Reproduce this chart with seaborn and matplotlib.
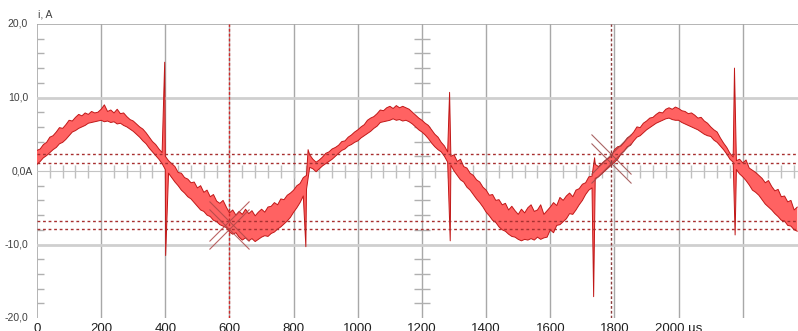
import numpy as np
import matplotlib
matplotlib.use("Agg")
import matplotlib.pyplot as plt
import seaborn as sns

# ----------------------
# Data: current waveform band (upper / lower edge), sampled every 10 us
# ----------------------
time_us = np.arange(0, 2380, 10)

upper_a = [
    2.8, 3.0, 3.6, 3.9, 4.6, 4.8, 5.3, 5.9, 5.8, 6.3,
    6.9, 6.8, 7.3, 7.7, 7.5, 7.9, 7.7, 8.1, 7.9, 8.0,
    8.4, 9.0, 8.1, 8.3, 7.9, 8.4, 7.8, 7.9, 7.4, 7.0,
    6.8, 6.4, 6.0, 5.7, 5.2, 4.6, 4.0, 3.6, 3.0, 2.5,
    2.0, 1.4, 1.0, 0.6, -0.2, -0.3, -0.9, -1.1, -1.6, -1.5,
    -2.3, -2.0, -2.9, -2.6, -3.5, -3.2, -4.1, -4.4, -4.0, -4.9,
    -5.7, -5.3, -6.0, -5.5, -5.9, -5.2, -5.8, -5.4, -6.1, -5.6,
    -5.2, -5.6, -4.9, -4.8, -4.3, -4.6, -3.8, -3.9, -3.3, -3.0,
    -2.6, -2.0, -1.7, -0.9, -0.6, 2.2, 1.6, 1.2, 1.5, 1.9,
    2.4, 2.6, 3.0, 3.2, 3.5, 4.0, 4.1, 4.6, 4.9, 5.3,
    5.6, 6.0, 6.3, 6.9, 7.2, 7.4, 7.8, 8.3, 8.2, 8.6,
    8.8, 8.5, 8.9, 8.6, 8.8, 8.6, 8.4, 8.0, 7.6, 7.2,
    6.9, 6.5, 6.2, 5.6, 5.0, 4.6, 3.9, 3.4, 2.6, 2.0,
    2.2, 1.3, 1.6, 0.6, 0.4, -0.3, -0.6, -1.2, -1.5, -2.2,
    -2.6, -3.3, -3.2, -4.0, -3.9, -4.6, -4.4, -5.3, -4.8, -5.4,
    -5.9, -5.2, -5.7, -5.0, -4.6, -5.5, -5.3, -4.6, -5.9, -5.4,
    -4.9, -4.3, -4.7, -3.6, -4.0, -3.4, -3.0, -3.5, -2.6, -2.4,
    -1.8, -1.6, -0.8, -0.7, 0.9, 0.6, 1.0, 1.4, 1.7, 2.0,
    2.9, 3.3, 3.4, 3.9, 4.5, 4.8, 5.3, 6.0, 5.9, 6.5,
    6.8, 7.2, 7.3, 7.7, 8.0, 7.9, 8.4, 8.6, 8.4, 8.7,
    8.5, 8.2, 8.1, 7.8, 7.9, 7.6, 7.2, 7.3, 6.8, 6.5,
    6.0, 5.6, 5.3, 4.5, 3.8, 3.2, 2.4, 1.9, 1.4, 1.6,
    1.1, 1.5, 0.4, 0.1, -0.2, -0.6, -1.0, -1.6, -1.3, -2.1,
    -2.7, -2.5, -3.5, -3.4, -4.2, -4.0, -5.3, -4.9,
]

lower_a = [
    0.9, 1.3, 1.8, 2.1, 2.5, 2.9, 3.2, 3.7, 3.9, 4.3,
    4.8, 5.3, 5.5, 5.8, 6.0, 6.2, 6.5, 6.6, 6.7, 6.8,
    6.9, 6.7, 6.8, 6.6, 6.7, 6.4, 6.5, 6.2, 6.0, 5.7,
    5.4, 5.0, 4.6, 4.1, 3.7, 3.1, 2.6, 2.1, 1.6, 1.0,
    0.2, -0.3, -0.9, -1.5, -2.0, -2.6, -3.0, -3.5, -3.8, -4.3,
    -4.8, -5.3, -5.5, -6.0, -6.2, -6.7, -6.9, -7.3, -7.5, -7.7,
    -8.3, -8.6, -8.4, -9.0, -9.4, -9.1, -9.5, -9.2, -9.6, -9.3,
    -9.0, -8.8, -8.9, -8.5, -8.3, -7.9, -7.6, -7.2, -6.8, -6.3,
    -5.6, -5.0, -4.3, -3.4, -2.5, 0.5, 0.3, -0.1, 0.3, 0.7,
    1.0, 1.3, 1.6, 2.0, 2.4, 2.8, 3.0, 3.4, 3.6, 3.9,
    4.1, 4.5, 4.8, 5.1, 5.4, 5.8, 6.1, 6.6, 6.7, 6.8,
    6.9, 7.1, 6.9, 7.0, 6.8, 6.9, 6.7, 6.4, 6.0, 5.6,
    5.3, 4.9, 4.4, 3.8, 3.3, 2.9, 2.6, 2.0, 1.2, 0.8,
    0.0, -0.6, -1.2, -1.5, -2.2, -2.6, -3.2, -3.8, -4.3, -4.9,
    -5.6, -6.1, -6.7, -7.0, -7.6, -8.0, -8.2, -8.6, -8.9, -9.0,
    -9.3, -9.5, -9.3, -9.4, -9.2, -9.4, -9.0, -9.3, -9.1, -9.0,
    -8.0, -8.4, -7.4, -7.3, -6.9, -6.5, -5.8, -5.9, -5.3, -4.6,
    -4.0, -3.2, -2.6, -2.3, -1.0, -0.8, -0.4, 0.0, 0.4, 0.8,
    1.2, 1.6, 2.3, 2.7, 3.3, 3.5, 4.1, 4.6, 4.8, 5.2,
    5.6, 5.9, 6.2, 6.5, 6.7, 6.9, 7.1, 7.2, 7.0, 6.9,
    6.9, 6.6, 6.4, 6.2, 6.0, 5.8, 5.6, 5.3, 5.0, 4.8,
    4.7, 4.2, 3.9, 3.4, 2.9, 2.3, 1.6, 1.2, 0.2, -0.4,
    -0.8, -1.3, -1.9, -2.6, -2.9, -3.3, -3.9, -4.5, -4.9, -5.3,
    -5.8, -6.2, -6.7, -6.8, -7.4, -7.5, -8.0, -8.2,
]

# switching spikes (time, peak value)
spike_hi_t = [398, 845, 1286, 1738, 2174]
spike_hi = [14.8, 2.9, 10.7, 1.8, 14.0]
spike_lo_t = [401, 838, 1288, 1735, 2176]
spike_lo = [-11.5, -10.3, -9.5, -17.1, -8.7]

# cursors
cursor_levels = [2.3, 1.1, -6.8, -7.9]
cursor_a_t = 600
cursor_a_lv = [-6.8, -7.9]
cursor_b_t = 1790
cursor_b_lv = [2.3, 1.1]

x_ticks = [0, 200, 400, 600, 800, 1000, 1200, 1400, 1600, 1800, 2000]
x_labels = ["0", "200", "400", "600", "800", "1000", "1200", "1400", "1600", "1800", "2000 µs"]
y_ticks = [20, 10, 0, -10, -20]
y_labels = ["20,0", "10,0", "0,0A", "-10,0", "-20,0"]

# ----------------------
# Merge spikes into edge series
# ----------------------
tu = np.concatenate([time_us, spike_hi_t]).astype(float)
yu = np.concatenate([upper_a, spike_hi])
o = np.argsort(tu, kind="stable")
tu, yu = tu[o], yu[o]

tl = np.concatenate([time_us, spike_lo_t]).astype(float)
yl = np.concatenate([lower_a, spike_lo])
o = np.argsort(tl, kind="stable")
tl, yl = tl[o], yl[o]

# ----------------------
# Plot
# ----------------------
sns.set_style("white")
plt.rcParams["font.family"] = ["Liberation Sans", "DejaVu Sans"]

W, H = 798, 331
fig = plt.figure(figsize=(W / 100, H / 100), dpi=100)
ax = fig.add_axes([37 / W, 13 / H, 761 / W, 294 / H])
ax.set_xlim(0, 2372)
ax.set_ylim(-20, 20)
for s in ax.spines.values():
    s.set_visible(False)
ax.set_xticks([])
ax.set_yticks([])

grid_c = "#a8a8a8"
# vertical grid
for gx in range(200, 2372, 200):
    ax.axvline(gx, color=grid_c, lw=1, zorder=1)
ax.axvline(0, color=grid_c, lw=1.2, zorder=1)
ax.axhline(20, color=grid_c, lw=1.2, zorder=1)
for gy in (10, -10):
    ax.axhline(gy, color="#cfcfcf", lw=2, zorder=1)
ax.axhline(0, color="#c4c4c4", lw=0.8, zorder=1)

# small ticks along the zero line
mt = np.arange(40, 2372, 40)
ax.vlines(mt, -1.0, 0.8, color="#c0c0c0", lw=1, zorder=1)
# small ticks along left axis and central axis
yt = [v for v in range(-18, 20, 2) if v % 10 != 0]
ax.hlines(yt, 0, 22, color="#b0b0b0", lw=1, zorder=1)
ax.hlines(yt, 1175, 1225, color="#b0b0b0", lw=1, zorder=1)

# band
ax.fill(np.r_[tu, tl[::-1]], np.r_[yu, yl[::-1]], color="#ff6262", lw=0, zorder=2)
sns.lineplot(x=tu, y=yu, ax=ax, color="#c01818", lw=0.7, sort=False, estimator=None, zorder=3)
sns.lineplot(x=tl, y=yl, ax=ax, color="#c01818", lw=0.7, sort=False, estimator=None, zorder=3)

# cursors
for lv in cursor_levels:
    ax.axhline(lv, color="#a83030", lw=1, ls=(0, (2, 2)), zorder=4)
ax.axvline(cursor_a_t, color="#d02828", lw=1, ls=(0, (2, 1.5)), zorder=4)
ax.axvline(cursor_b_t, color="#8a3a3a", lw=1, ls=(0, (2, 1.5)), zorder=4)
ax.plot([cursor_a_t] * len(cursor_a_lv), cursor_a_lv, ls="none", marker="x",
        ms=29, mew=0.8, color="#b04848", alpha=0.85, zorder=4)
ax.plot([cursor_b_t] * len(cursor_b_lv), cursor_b_lv, ls="none", marker="x",
        ms=29, mew=0.8, color="#9a4a4a", alpha=0.85, zorder=4)

# axis labels
for x, lab in zip(x_ticks, x_labels):
    ax.annotate(lab, xy=(x, 0), xycoords=("data", "axes fraction"),
                xytext=(0, -3.5), textcoords="offset points",
                ha="center", va="top", fontsize=9.5, color="#202020",
                annotation_clip=False)
for y, lab in zip(y_ticks, y_labels):
    off = -3 if lab.endswith("A") else -6.5
    ax.annotate(lab, xy=(0, y), xycoords=("axes fraction", "data"),
                xytext=(off, 0), textcoords="offset points",
                ha="right", va="center", fontsize=7.5, color="#404040",
                annotation_clip=False)
ax.annotate("i, A", xy=(0, 1), xycoords="axes fraction", xytext=(1, 6.5),
            textcoords="offset points", ha="left", va="center",
            fontsize=7.5, color="#404040", annotation_clip=False)

fig.savefig("out.png", dpi=100)
